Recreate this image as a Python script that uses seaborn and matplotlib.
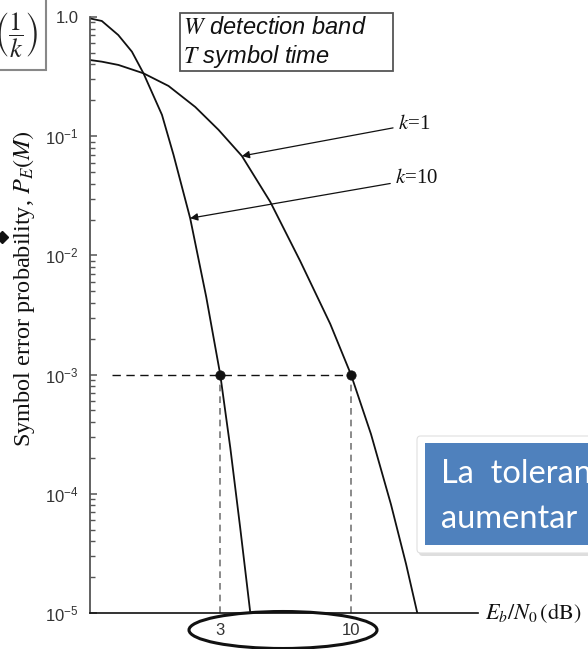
import matplotlib
matplotlib.use("Agg")
import matplotlib.pyplot as plt
import numpy as np
import pandas as pd
import seaborn as sns
from matplotlib.patches import Ellipse, Rectangle, FancyBboxPatch
from matplotlib.lines import Line2D
from matplotlib.ticker import LogLocator, NullFormatter

# Eb/N0 (dB) and symbol error probability for the two curves
snr_k1 = [-4.0, -3.34, -2.45, -1.11, 0.23, 1.66, 2.91, 4.16, 5.68, 7.28, 8.89, 10.0,
          11.07, 12.14, 12.95, 13.55]
pe_k1 = [0.436, 0.422, 0.396, 0.337, 0.264, 0.176, 0.113, 0.0682, 0.0281, 0.00897,
         0.00266, 1e-3, 3.17e-4, 8.15e-5, 2.57e-5, 1e-5]
snr_k10 = [-4.0, -3.34, -2.46, -1.73, -1.11, -0.12, 0.50, 1.39, 2.25, 3.0, 3.54, 4.07, 4.61]
pe_k10 = [0.975, 0.926, 0.706, 0.512, 0.337, 0.151, 0.0696, 0.0205, 0.00448, 1e-3,
          2.42e-4, 5.16e-5, 1e-5]

target_pe = 1e-3
required_snr = [3, 10]
xtick_labels = ["3", "10"]
ytick_values = [1e-5, 1e-4, 1e-3, 1e-2, 1e-1, 1.0]
ytick_labels = [r"$\mathregular{10^{-5}}$", r"$\mathregular{10^{-4}}$", r"$\mathregular{10^{-3}}$",
                r"$\mathregular{10^{-2}}$", r"$\mathregular{10^{-1}}$", "1.0"]
curve_names = ["$k$=1", "$k$=10"]

sns.set_theme(style="white")
plt.rcParams["font.family"] = ["Liberation Sans", "DejaVu Sans"]

W, H = 588, 649
fig = plt.figure(figsize=(W / 100, H / 100), dpi=100)
fig.patch.set_facecolor("white")


def fx(px):
    return px / W


def fy(py):
    return 1 - py / H


ax = fig.add_axes([fx(89.5), fy(613), (478 - 89.5) / W, (613 - 17) / H])
ax.set_facecolor("white")

df = pd.concat([
    pd.DataFrame({"snr": snr_k1, "pe": pe_k1, "k": curve_names[0]}),
    pd.DataFrame({"snr": snr_k10, "pe": pe_k10, "k": curve_names[1]}),
])
sns.lineplot(data=df, x="snr", y="pe", hue="k", palette=["#111111", "#111111"],
             estimator=None, sort=False, legend=False, lw=1.3, ax=ax)
for ln in ax.get_lines():
    ln.set_solid_joinstyle("round")
ax.set_yscale("log")
ax.set_xlim(-4, 16.8)
ax.set_ylim(1e-5, 1.0)

# reference level and the Eb/N0 it requires
ax.plot([-2.8, required_snr[1]], [target_pe, target_pe], ls=(0, (6, 4)), color="#111111", lw=1.0)
ax.vlines(required_snr, 1e-5, target_pe, linestyles=(0, (4, 3)), colors="#777777", lw=1.2)
sns.scatterplot(x=required_snr, y=[target_pe] * len(required_snr), color="#111111",
                s=45, edgecolor="#111111", zorder=5, ax=ax, legend=False)

# axes styling
for s in ["top", "right"]:
    ax.spines[s].set_visible(False)
ax.spines["left"].set_color("#555555")
ax.spines["left"].set_linewidth(1.3)
ax.spines["bottom"].set_color("#111111")
ax.spines["bottom"].set_linewidth(1.2)
ax.set_yticks(ytick_values, labels=ytick_labels)
ax.yaxis.set_minor_locator(LogLocator(base=10, subs=np.arange(2, 10)))
ax.yaxis.set_minor_formatter(NullFormatter())
ax.tick_params(axis="y", which="major", direction="in", length=5, width=1.1,
               color="#555555", labelsize=12, labelcolor="#333333", pad=8, left=True)
ax.tick_params(axis="y", which="minor", direction="in", length=3.5, width=1.0,
               color="#555555", left=True)
ax.set_xticks(required_snr, labels=xtick_labels)
ax.tick_params(axis="x", which="both", length=0, labelsize=12, labelcolor="#333333", pad=7)
ax.set_xlabel("")
ax.set_ylabel("")

# curve annotations
ann_xy = [(snr_k1[7], pe_k1[7]), (snr_k10[7], pe_k10[7])]
ann_text = [(12.5, 0.1265), (12.35, 0.0438)]
for name, xy, xt in zip(curve_names, ann_xy, ann_text):
    ax.annotate(name, xy=xy, xytext=xt, fontsize=15, family="Liberation Serif",
                math_fontfamily="stix", va="center", ha="left", color="#111111",
                arrowprops=dict(arrowstyle="-|>", lw=0.9, color="#111111",
                                mutation_scale=11, shrinkA=1, shrinkB=0))

# axis titles
fig.text(fx(24), fy(289), r"Symbol error probability, $P_E(M)$", rotation=90,
         ha="center", va="center", fontsize=17.5, family="Liberation Serif",
         math_fontfamily="stix", color="#111111")
fig.text(fx(485), fy(613), r"$E_b/N_0\,\mathrm{(dB)}$", ha="left", va="center",
         fontsize=16, math_fontfamily="stix", color="#111111")

# legend box for the symbols
fig.add_artist(Rectangle((fx(180), fy(71)), (393 - 180) / W, (71 - 13) / H,
                         transform=fig.transFigure, fill=True, fc="white",
                         ec="#555555", lw=1.3))
fig.text(fx(183), fy(27), r"$W$ detection band", ha="left", va="center", fontsize=17,
         style="italic", math_fontfamily="stix", color="#111111")
fig.text(fx(183), fy(56), r"$T$ symbol time", ha="left", va="center", fontsize=17,
         style="italic", math_fontfamily="stix", color="#111111")

# fraction box at the upper left edge
fig.add_artist(Rectangle((fx(-10), fy(70)), 56 / W, 80 / H, transform=fig.transFigure,
                         fill=False, ec="#888888", lw=1.5))
fig.text(fx(16), fy(35), r"$\left(\dfrac{1}{k}\right)$", ha="center", va="center",
         fontsize=19, math_fontfamily="stix", color="#222222")
fig.add_artist(Line2D([fx(2)], [fy(237)], marker="D", ms=6, color="#111111",
                      transform=fig.transFigure))

# ellipse around the required Eb/N0 values
fig.add_artist(Ellipse((fx(283), fy(630)), 188 / W, 37 / H, transform=fig.transFigure,
                       fill=False, ec="#111111", lw=2.2))

# callout box
fig.add_artist(FancyBboxPatch((fx(419), fy(556)), 200 / W, (556 - 438) / H,
                              boxstyle="round,pad=0,rounding_size=0.006",
                              transform=fig.transFigure, fc="#c8c8c8", ec="none", alpha=0.6))
fig.add_artist(FancyBboxPatch((fx(417), fy(553)), 200 / W, (553 - 436) / H,
                              boxstyle="round,pad=0,rounding_size=0.006",
                              transform=fig.transFigure, fc="white", ec="#e0e0e0", lw=0.8))
fig.add_artist(Rectangle((fx(425), fy(545)), 200 / W, (545 - 443) / H,
                         transform=fig.transFigure, fc="#4F81BD", ec="none"))
fig.text(fx(441), fy(483), "La  toleran", ha="left", va="baseline", fontsize=23.5,
         family="Lato", color="white")
fig.text(fx(441), fy(528), "aumentar", ha="left", va="baseline", fontsize=23.5,
         family="Lato", color="white")

fig.savefig("out.png", dpi=100, facecolor="white")
